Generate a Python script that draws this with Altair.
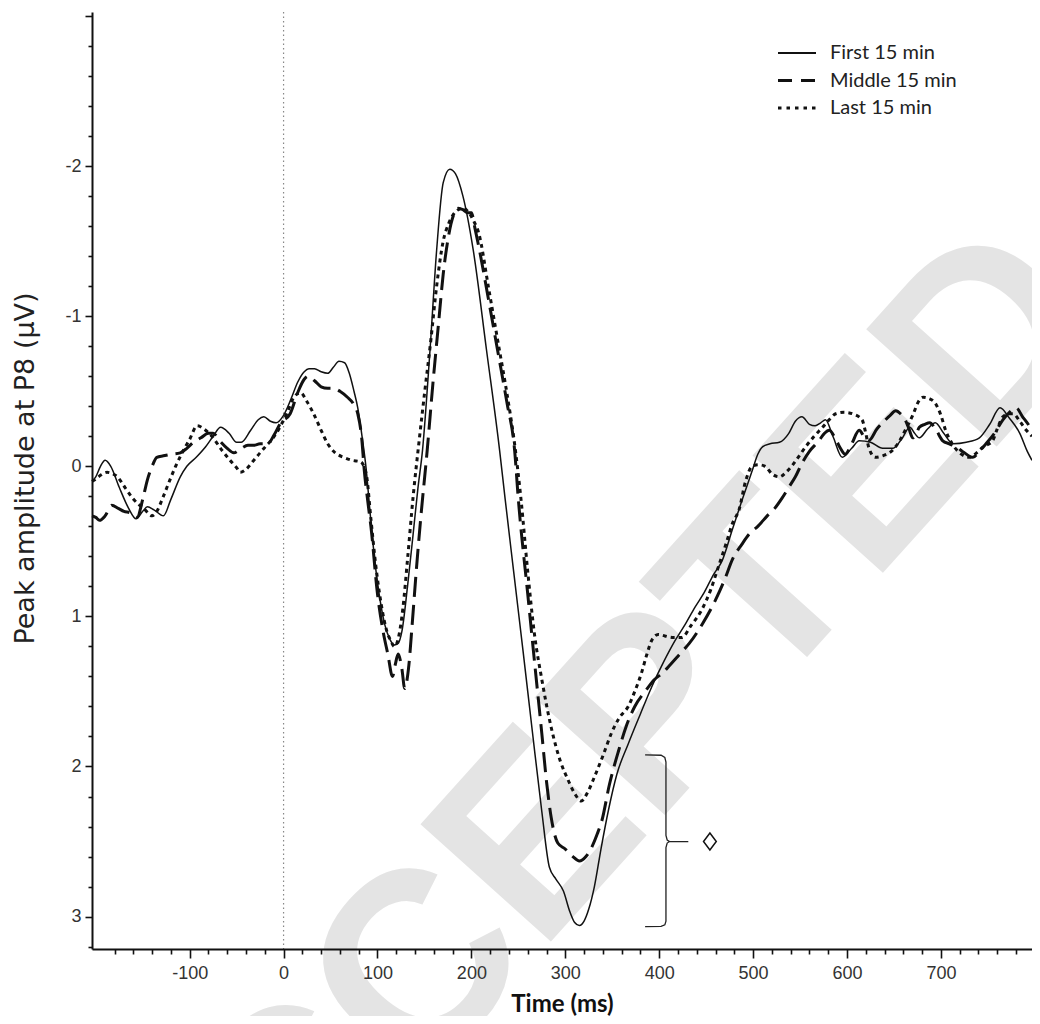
import altair as alt
import pandas as pd

# ---------------- data ----------------
series_names = ["First 15 min", "Middle 15 min", "Last 15 min"]

time_first = [-204, -200, -195, -190, -184, -175, -165, -157, -150, -145, -138, -128, -120, -110, -103,
              -93, -83, -75, -67, -58, -50, -45, -35, -27, -21, -14, -8, 0, 8, 15, 22, 27, 33, 40, 47,
              53, 59, 65, 70, 75, 79, 84, 88, 92, 97, 103, 108, 113, 118, 122, 126, 132, 138, 143, 148,
              156, 163, 170, 177, 183, 191, 202, 216, 230, 236, 245, 255, 265, 275, 283, 290, 298, 305,
              310, 315, 320, 325, 331, 338, 346, 355, 367, 380, 392, 405, 417, 428, 438, 448, 458, 467,
              478, 488, 499, 505, 510, 518, 528, 538, 545, 552, 560, 566, 572, 577, 585, 595, 605, 613,
              625, 638, 649, 658, 667, 672, 677, 686, 694, 703, 713, 727, 741, 752, 763, 773, 784, 792, 797]
amp_first = [0.10, 0.07, 0.00, -0.04, 0.00, 0.14, 0.28, 0.35, 0.30, 0.27, 0.29, 0.33, 0.22, 0.07, 0.00,
             -0.06, -0.13, -0.20, -0.26, -0.22, -0.16, -0.16, -0.24, -0.31, -0.33, -0.30, -0.29, -0.34,
             -0.45, -0.56, -0.63, -0.65, -0.65, -0.63, -0.62, -0.66, -0.70, -0.69, -0.62, -0.50, -0.39,
             -0.18, 0.02, 0.30, 0.62, 0.90, 1.06, 1.15, 1.19, 1.18, 1.10, 0.80, 0.45, 0.15, -0.11, -0.78,
             -1.44, -1.89, -1.98, -1.95, -1.80, -1.44, -0.78, -0.11, 0.22, 0.70, 1.23, 1.77, 2.30, 2.67,
             2.75, 2.83, 2.97, 3.04, 3.06, 3.03, 2.95, 2.80, 2.55, 2.29, 2.05, 1.85, 1.65, 1.47, 1.30,
             1.16, 1.05, 0.94, 0.84, 0.72, 0.63, 0.42, 0.23, 0.03, -0.08, -0.13, -0.15, -0.16, -0.22,
             -0.30, -0.33, -0.28, -0.27, -0.29, -0.31, -0.20, -0.06, -0.12, -0.17, -0.16, -0.12, -0.12,
             -0.18, -0.26, -0.22, -0.19, -0.25, -0.29, -0.22, -0.15, -0.16, -0.19, -0.28, -0.39, -0.32,
             -0.22, -0.10, -0.04]

time_middle = [-204, -200, -196, -190, -183, -176, -170, -163, -156, -150, -145, -140, -135, -128, -120,
               -110, -103, -96, -88, -80, -75, -68, -60, -53, -45, -38, -32, -25, -17, -10, -3, 7, 15,
               22, 26, 33, 40, 47, 53, 60, 68, 74, 79, 83, 86, 90, 93, 100, 106, 111, 116, 119, 122, 126,
               129, 133, 137, 141, 146, 153, 159, 165, 170, 175, 182, 186, 191, 196, 200, 204, 208, 218,
               228, 238, 246, 250, 260, 268, 275, 280, 285, 292, 300, 308, 315, 322, 328, 334, 339, 347,
               357, 365, 374, 385, 395, 403, 412, 422, 432, 446, 460, 470, 478, 488, 496, 505, 515, 523,
               531, 538, 545, 552, 560, 570, 576, 581, 588, 593, 598, 605, 613, 618, 623, 632, 641, 646,
               652, 657, 662, 666, 670, 674, 677, 683, 688, 695, 702, 709, 716, 725, 734, 741, 748, 757,
               766, 773, 780, 787, 794, 797]
amp_middle = [0.33, 0.34, 0.36, 0.33, 0.26, 0.28, 0.30, 0.31, 0.34, 0.22, 0.09, 0.00, -0.06, -0.07, -0.08,
              -0.09, -0.12, -0.16, -0.19, -0.22, -0.22, -0.17, -0.12, -0.09, -0.12, -0.14, -0.14, -0.15,
              -0.15, -0.21, -0.29, -0.35, -0.49, -0.58, -0.60, -0.57, -0.53, -0.52, -0.52, -0.50, -0.46,
              -0.42, -0.35, -0.20, 0.03, 0.25, 0.40, 0.85, 1.10, 1.25, 1.40, 1.32, 1.25, 1.35, 1.48, 1.35,
              1.05, 0.72, 0.35, -0.11, -0.55, -0.95, -1.28, -1.51, -1.69, -1.72, -1.71, -1.69, -1.69,
              -1.58, -1.46, -1.12, -0.77, -0.42, -0.11, 0.22, 0.85, 1.35, 1.78, 2.10, 2.34, 2.51, 2.55,
              2.60, 2.63, 2.60, 2.54, 2.45, 2.36, 2.12, 1.89, 1.73, 1.60, 1.50, 1.42, 1.38, 1.32, 1.25,
              1.18, 1.05, 0.89, 0.75, 0.62, 0.52, 0.45, 0.40, 0.33, 0.28, 0.21, 0.14, 0.07, -0.02, -0.10,
              -0.17, -0.22, -0.24, -0.18, -0.12, -0.08, -0.15, -0.24, -0.20, -0.17, -0.25, -0.31, -0.34,
              -0.37, -0.35, -0.31, -0.25, -0.19, -0.22, -0.26, -0.28, -0.29, -0.24, -0.17, -0.15, -0.13,
              -0.09, -0.06, -0.10, -0.15, -0.22, -0.31, -0.36, -0.39, -0.33, -0.27, -0.24]

time_last = [-204, -201, -195, -188, -182, -177, -169, -161, -155, -149, -140, -135, -128, -121, -115,
             -108, -100, -92, -85, -75, -66, -57, -50, -46, -40, -33, -25, -18, -11, -4, 4, 11, 18, 25,
             32, 40, 47, 55, 64, 73, 82, 88, 93, 98, 104, 110, 114, 118, 122, 127, 132, 138, 144, 150,
             157, 163, 170, 176, 181, 186, 191, 196, 202, 208, 218, 228, 238, 246, 253, 260, 267, 275,
             285, 295, 303, 310, 317, 324, 331, 340, 349, 357, 367, 374, 381, 387, 392, 399, 406, 415,
             424, 434, 445, 455, 463, 472, 478, 485, 492, 499, 506, 513, 520, 528, 535, 541, 548, 556,
             565, 574, 581, 588, 597, 606, 616, 620, 623, 630, 638, 649, 656, 662, 670, 676, 681, 688,
             694, 700, 705, 712, 720, 731, 738, 745, 755, 760, 766, 772, 777, 784, 791, 797]
amp_last = [0.10, 0.09, 0.06, 0.04, 0.05, 0.07, 0.14, 0.21, 0.25, 0.28, 0.33, 0.30, 0.20, 0.09, 0.00,
            -0.09, -0.18, -0.27, -0.25, -0.19, -0.11, -0.04, 0.01, 0.04, 0.02, -0.03, -0.09, -0.14, -0.19,
            -0.26, -0.36, -0.46, -0.49, -0.43, -0.35, -0.24, -0.15, -0.09, -0.06, -0.04, -0.03, 0.05, 0.35,
            0.65, 0.92, 1.10, 1.16, 1.20, 1.15, 0.95, 0.62, 0.20, -0.15, -0.48, -0.85, -1.20, -1.50,
            -1.62, -1.68, -1.71, -1.72, -1.70, -1.64, -1.55, -1.20, -0.84, -0.48, -0.15, 0.23, 0.70, 1.11,
            1.42, 1.74, 1.97, 2.09, 2.18, 2.23, 2.17, 2.07, 1.93, 1.78, 1.68, 1.60, 1.50, 1.38, 1.25, 1.16,
            1.12, 1.13, 1.14, 1.14, 1.06, 0.96, 0.82, 0.67, 0.50, 0.38, 0.29, 0.10, 0.00, -0.01, 0.00, 0.05,
            0.07, 0.04, 0.00, -0.06, -0.13, -0.20, -0.26, -0.31, -0.35, -0.36, -0.35, -0.31, -0.22, -0.13,
            -0.06, -0.07, -0.11, -0.17, -0.24, -0.34, -0.43, -0.46, -0.45, -0.42, -0.34, -0.24, -0.15,
            -0.09, -0.06, -0.09, -0.13, -0.17, -0.25, -0.33, -0.35, -0.35, -0.30, -0.24, -0.20]

# significance bracket and marker
bracket_t = [385, 402, 406, 407.2, 407.2, 408.5, 411, 431, 411, 408.5, 407.2, 407.2, 406, 402, 385]
bracket_v = [1.923, 1.925, 1.94, 1.97, 2.46, 2.49, 2.50, 2.50, 2.50, 2.51, 2.54, 3.03, 3.055, 3.065, 3.067]
marker_t = [454]
marker_v = [2.50]

x_ticks = list(range(-180, 797, 20))
y_ticks = [round(-3.0 + 0.2 * i, 1) for i in range(32)]

# ---------------- chart ----------------
PLOT_W, PLOT_H = 940, 937
xs = alt.Scale(domain=[-204, 797], nice=False, zero=False)
ys = alt.Scale(domain=[-3.027, 3.216], reverse=True, nice=False, zero=False)

x_axis = alt.Axis(
    values=x_ticks,
    labelExpr="(datum.value % 100 === 0) ? '' + datum.value : ''",
    tickSize={"condition": {"test": "datum.value % 100 === 0", "value": 9}, "value": 5},
    tickWidth=1.6, tickColor="#111", domainColor="#111", domainWidth=2,
    labelFont="Liberation Sans", labelFontSize=18, labelColor="#333", labelPadding=6,
    labelFlush=False, labelOverlap=False, grid=False, zindex=1,
    title="Time (ms)", titleFont="Lato", titleFontWeight="bold", titleFontSize=24,
    titleColor="#111", titleY=43, titleBaseline="top",
)
y_axis = alt.Axis(
    values=y_ticks,
    labelExpr="(datum.value % 1 === 0 && datum.value > -3) ? '' + datum.value : ''",
    tickSize={"condition": {"test": "datum.value % 1 === 0", "value": 7}, "value": 4},
    tickWidth=1.6, tickColor="#111", domainColor="#111", domainWidth=2,
    labelFont="Liberation Sans", labelFontSize=18, labelColor="#333", labelPadding=4,
    labelFlush=False, labelOverlap=False, grid=False, zindex=1,
    title="Peak amplitude at P8 (\u03bcV)", titleFont="DejaVu Sans", titleFontSize=27,
    titleFontWeight="normal", titleColor="#222", titleX=-67, titleY=456,
    titleBaseline="middle", titleAlign="center", titleAngle=270,
)

X = lambda: alt.X("t:Q", scale=xs, axis=x_axis)
Y = lambda: alt.Y("v:Q", scale=ys, axis=y_axis)

# watermark
watermark = alt.Chart(pd.DataFrame({"w": [0]})).mark_text(
    text="ACCEPTED", angle=312, fontSize=255, font="Liberation Sans", fontWeight="bold",
    color="#e4e4e4", align="center", baseline="middle",
).encode(x=alt.value(490), y=alt.value(780))

zero_line = alt.Chart(pd.DataFrame({"t": [0]})).mark_rule(
    color="#888", strokeWidth=1.2, strokeDash=[1.5, 3]
).encode(x=X())

styles = {
    "First 15 min": dict(strokeWidth=1.5),
    "Middle 15 min": dict(strokeWidth=3, strokeDash=[20, 8]),
    "Last 15 min": dict(strokeWidth=3, strokeDash=[4, 4]),
}
series_data = {
    "First 15 min": (time_first, amp_first),
    "Middle 15 min": (time_middle, amp_middle),
    "Last 15 min": (time_last, amp_last),
}

line_layers = []
for name in ["Last 15 min", "Middle 15 min", "First 15 min"]:
    tt, vv = series_data[name]
    df = pd.DataFrame({"t": tt, "v": vv})
    line_layers.append(
        alt.Chart(df).mark_line(color="#111", interpolate="monotone", **styles[name]).encode(x=X(), y=Y())
    )

bracket = alt.Chart(pd.DataFrame({"t": bracket_t, "v": bracket_v, "i": list(range(len(bracket_t)))})).mark_line(
    color="#222", strokeWidth=1.3
).encode(x=X(), y=Y(), order=alt.Order("i:Q"))

marker = alt.Chart(pd.DataFrame({"t": marker_t, "v": marker_v})).mark_point(
    shape="M0,-1L0.75,0L0,1L-0.75,0Z", size=289, filled=False, color="#111", strokeWidth=1.5, opacity=1
).encode(x=X(), y=Y())

# legend (drawn manually, in pixel space of the plot)
leg_rows = [41, 68.5, 96]
leg_styles = {
    "First 15 min": dict(strokeWidth=2.2),
    "Middle 15 min": dict(strokeWidth=3, strokeDash=[14, 9]),
    "Last 15 min": dict(strokeWidth=3, strokeDash=[3.5, 5]),
}
legend_layers = []
for name, py in zip(series_names, leg_rows):
    d = pd.DataFrame({"px": [686], "px2": [724], "py": [py], "tx": [738], "label": [name]})
    legend_layers.append(
        alt.Chart(d).mark_rule(color="#111", **leg_styles[name]).encode(
            x=alt.X("px:Q", scale=None, axis=None), x2="px2:Q", y=alt.Y("py:Q", scale=None, axis=None)
        )
    )
    legend_layers.append(
        alt.Chart(d).mark_text(font="Lato", fontSize=20, color="#222", align="left", baseline="middle").encode(
            x=alt.X("tx:Q", scale=None, axis=None), y=alt.Y("py:Q", scale=None, axis=None), text="label:N"
        )
    )

chart = alt.layer(
    watermark, zero_line, *line_layers, bracket, marker, *legend_layers
).properties(
    width=PLOT_W, height=PLOT_H,
    autosize=alt.AutoSizeParams(type="none"),
    padding={"left": 84, "top": 4, "right": 0, "bottom": 67},
    background="white",
).configure_view(strokeWidth=0)

chart.save("out.html", embed_options={"renderer": "svg", "actions": False})
